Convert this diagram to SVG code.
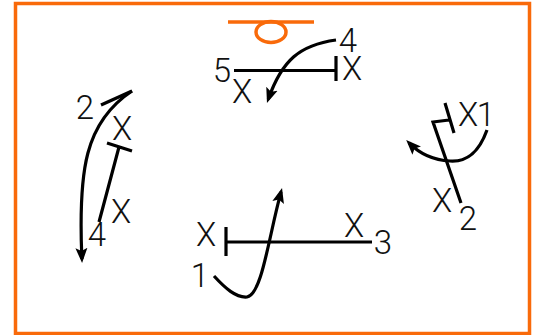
<svg xmlns="http://www.w3.org/2000/svg" width="536" height="335" viewBox="0 0 536 335">
<defs>
<marker id="ah" markerUnits="userSpaceOnUse" markerWidth="16" markerHeight="16" viewBox="0 0 16 16" refX="11" refY="8" orient="auto"><path d="M0 2L15 8L0 14L3 8Z" fill="#000"/></marker>
</defs>
<style>
.t{font-family:"Roboto","Liberation Sans",Arial,sans-serif;font-weight:300;font-size:33px;fill:#111;text-anchor:middle}
.l{fill:none;stroke:#000;stroke-width:3.200;stroke-linecap:butt}
.o{fill:none;stroke:#f96a0a;stroke-width:3.500}
</style>
<rect width="536" height="335" fill="#fff"/>
<g id="court">
<rect x="15.500" y="3.500" width="514" height="330" fill="none" stroke="#f96a0a" stroke-width="3.500"/>
<path class="o" d="M228 22H314"/>
<ellipse class="o" cx="271" cy="32" rx="15" ry="10.500"/>
</g>
<g id="connectors">
<path class="l" d="M234 70.500H336M336 56V81"/>
<path class="l" marker-end="url(#ah)" d="M336 40C300 45 282 60 268.300 99.200"/>
<path class="l" d="M101 105L132 91"/>
<path class="l" marker-end="url(#ah)" d="M132 91C85 122 78 170 81.900 259"/>
<path class="l" d="M107 143L132 151M119 147L99 222"/>
<path class="l" d="M445 103L454 133M449 120L433 122L461 203"/>
<path class="l" marker-end="url(#ah)" d="M487 130C478 155 465 162 450 161C432 160 418 152 409 142.800"/>
<path class="l" d="M226 227V256M226 242H372"/>
<path class="l" marker-end="url(#ah)" d="M214 276C225 288 236 298 247 297C262 294 268 240 281 191.900"/>
</g>
<g id="top"><text class="t" x="222" y="82">5</text><text class="t" x="242" y="103">X</text><text class="t" x="352" y="80">X</text><text class="t" x="348" y="52">4</text></g>
<g id="left"><text class="t" x="85" y="119">2</text><text class="t" x="122" y="140">X</text><text class="t" x="121" y="223">X</text><text class="t" x="97" y="246">4</text></g>
<g id="right"><text class="t" x="468" y="126">X</text><text class="t" x="486" y="126">1</text><text class="t" x="442" y="212">X</text><text class="t" x="468" y="230">2</text></g>
<g id="bottom"><text class="t" x="206" y="246">X</text><text class="t" x="354" y="237">X</text><text class="t" x="383" y="254">3</text><text class="t" x="200" y="287">1</text></g>
</svg>
